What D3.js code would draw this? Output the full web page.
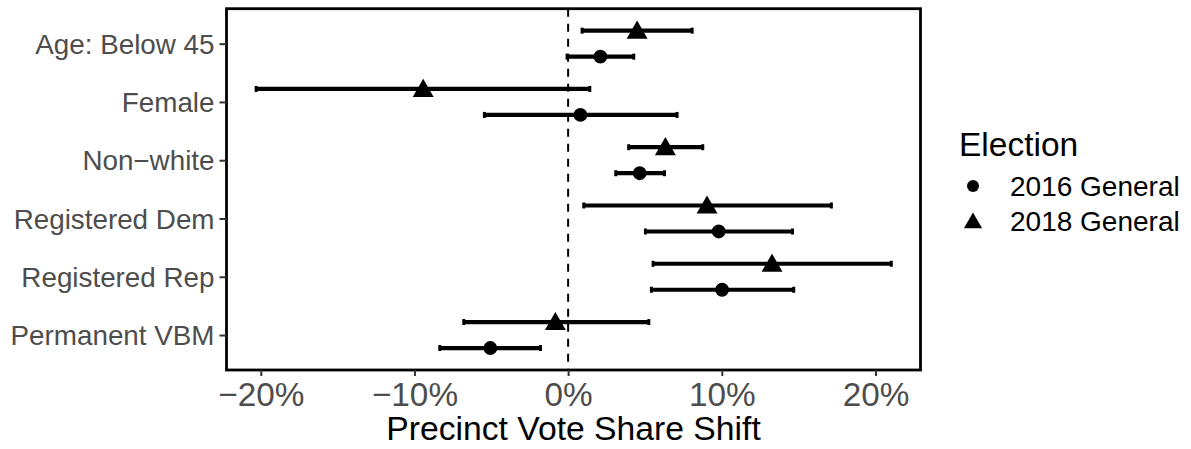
<!DOCTYPE html>
<html>
<head>
<meta charset="utf-8">
<script src="https://cdn.jsdelivr.net/npm/d3@7"></script>
<style>
  body { margin: 0; background: #fff; }
  svg { display: block; font-family: "Liberation Sans", Arial, sans-serif; }
</style>
</head>
<body>
<svg id="chart" width="1191" height="449"></svg>
<script>
// categories, top to bottom
var categories = ["Age: Below 45", "Female", "Non\u2212white", "Registered Dem", "Registered Rep", "Permanent VBM"];

// 2016 General (circles), percent
var est2016 = [2.1, 0.8, 4.66, 9.8, 10.02, -5.06];
var lo2016 = [-0.07, -5.45, 3.1, 5.03, 5.42, -8.35];
var hi2016 = [4.27, 7.09, 6.27, 14.6, 14.68, -1.8];

// 2018 General (triangles), percent
var est2018 = [4.49, -9.43, 6.33, 9.04, 13.27, -0.83];
var lo2018 = [0.91, -20.3, 3.94, 1.02, 5.53, -6.79];
var hi2018 = [8.07, 1.41, 8.76, 17.13, 21.03, 5.25];

var xTicks = [-20, -10, 0, 10, 20];
var seriesNames = ["2016 General", "2018 General"];

var rows = [];
categories.forEach(function(c, i) {
  rows.push({cat: c, series: "2018 General", est: est2018[i], lo: lo2018[i], hi: hi2018[i]});
  rows.push({cat: c, series: "2016 General", est: est2016[i], lo: lo2016[i], hi: hi2016[i]});
});

var svg = d3.select("#chart");
var panel = {left: 226.5, right: 920.5, top: 8.7, bottom: 370};

var x = d3.scaleLinear()
    .domain([-22.23, 22.93])
    .range([panel.left, panel.right]);

var y = d3.scalePoint()
    .domain(categories)
    .range([panel.top, panel.bottom])
    .padding(0.6);

// dodge within each category
var dodge = d3.scaleOrdinal()
    .domain(seriesNames)
    .range([13, -13]);

var shape = d3.scaleOrdinal()
    .domain(seriesNames)
    .range([d3.symbolCircle, d3.symbolTriangle]);

var size = d3.scaleOrdinal()
    .domain(seriesNames)
    .range([150, 190]);

// zero line
svg.append("line")
    .attr("x1", x(0)).attr("x2", x(0))
    .attr("y1", panel.top).attr("y2", panel.bottom)
    .attr("stroke", "#000")
    .attr("stroke-width", 2)
    .attr("stroke-dasharray", "8,7");

// error bars
var bars = svg.append("g").selectAll("g")
    .data(rows)
    .enter().append("g")
      .attr("transform", function(d) { return "translate(0," + (y(d.cat) + dodge(d.series)) + ")"; });

bars.append("line")
    .attr("x1", function(d) { return x(d.lo); })
    .attr("x2", function(d) { return x(d.hi); })
    .attr("stroke", "#000")
    .attr("stroke-width", 4.2);

bars.selectAll(".cap")
    .data(function(d) { return [d.lo, d.hi]; })
    .enter().append("line")
      .attr("class", "cap")
      .attr("x1", function(v) { return x(v); })
      .attr("x2", function(v) { return x(v); })
      .attr("y1", -3).attr("y2", 3)
      .attr("stroke", "#000")
      .attr("stroke-width", 3);

bars.append("path")
    .attr("transform", function(d) { return "translate(" + x(d.est) + "," + (d.series === "2018 General" ? 2 : 0) + ")"; })
    .attr("d", function(d) { return d3.symbol().type(shape(d.series)).size(size(d.series))(); })
    .attr("fill", "#000");

// panel border
svg.append("rect")
    .attr("x", panel.left).attr("y", panel.top)
    .attr("width", panel.right - panel.left)
    .attr("height", panel.bottom - panel.top)
    .attr("fill", "none")
    .attr("stroke", "#000")
    .attr("stroke-width", 2.8);

// axes
var xAxis = svg.append("g")
    .attr("transform", "translate(0," + panel.bottom + ")")
    .call(d3.axisBottom(x).tickValues(xTicks).tickSize(6).tickPadding(6)
      .tickFormat(function(v) { return (v < 0 ? "\u2212" + Math.abs(v) : v) + "%"; }));

var yAxis = svg.append("g")
    .attr("transform", "translate(" + panel.left + ",0)")
    .call(d3.axisLeft(y).tickSize(7).tickPadding(5));

[xAxis, yAxis].forEach(function(a) {
  a.select(".domain").remove();
  a.selectAll(".tick line").attr("stroke", "#333").attr("stroke-width", 2);
  a.selectAll(".tick text").attr("fill", "#4d4d4d").attr("font-family", "Liberation Sans, Arial, sans-serif");
});
xAxis.selectAll(".tick text").attr("font-size", 33.3).attr("dy", "0.71em");
yAxis.selectAll(".tick text").attr("font-size", 27.8).attr("dy", "0.35em");

svg.append("text")
    .attr("x", (panel.left + panel.right) / 2)
    .attr("y", 440)
    .attr("text-anchor", "middle")
    .attr("font-size", 33.7)
    .attr("fill", "#000")
    .text("Precinct Vote Share Shift");

// legend
var legend = svg.append("g").attr("transform", "translate(959,0)");
legend.append("text")
    .attr("x", 0).attr("y", 156)
    .attr("font-size", 33.5)
    .attr("fill", "#000")
    .text("Election");

var items = legend.selectAll(".item")
    .data(seriesNames)
    .enter().append("g")
      .attr("class", "item")
      .attr("transform", function(d, i) { return "translate(0," + (186 + i * 35) + ")"; });

items.append("path")
    .attr("transform", function(d) { return "translate(14," + (d === "2018 General" ? 2 : 0) + ")"; })
    .attr("d", function(d) { return d3.symbol().type(shape(d)).size(size(d) * 0.75)(); })
    .attr("fill", "#000");

items.append("text")
    .attr("x", 51).attr("y", 0)
    .attr("dy", "0.35em")
    .attr("font-size", 28)
    .attr("fill", "#000")
    .text(function(d) { return d; });
</script>
</body>
</html>
